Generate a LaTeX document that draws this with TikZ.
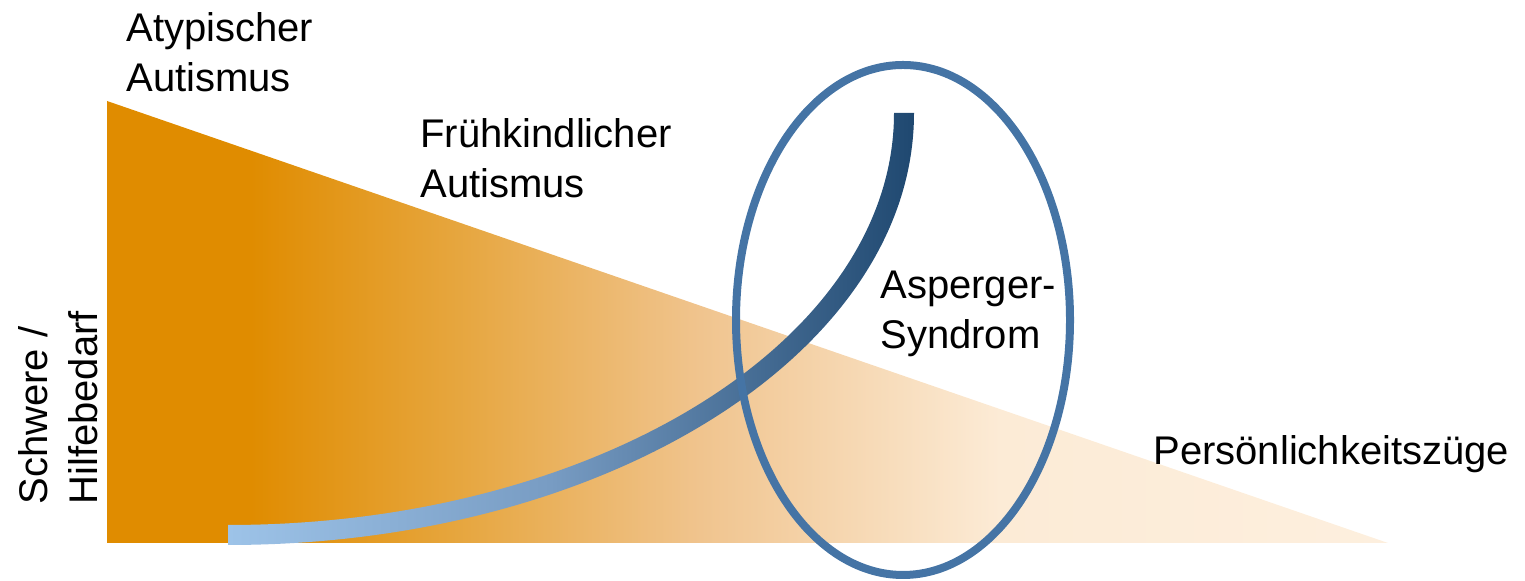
\documentclass[tikz,border=0pt]{standalone}
\usepackage{fontspec}
\setmainfont{Liberation Sans}
\definecolor{or0}{RGB}{224,140,0}
\definecolor{or1}{RGB}{230,165,60}
\definecolor{or2}{RGB}{240,196,142}
\definecolor{or3}{RGB}{252,235,214}
\definecolor{or4}{RGB}{253,239,222}
\definecolor{bl0}{RGB}{157,195,232}
\definecolor{bl1}{RGB}{120,156,195}
\definecolor{bl2}{RGB}{31,72,112}
\definecolor{ringblue}{RGB}{69,116,165}
\pgfdeclarehorizontalshading{trishade}{100bp}{color(0bp)=(or0); color(30.6bp)=(or0); color(38.4bp)=(or1); color(48.15bp)=(or2); color(59.85bp)=(or3); color(75bp)=(or4); color(100bp)=(or4)}
\pgfdeclarehorizontalshading{curveshade}{100bp}{color(0bp)=(bl0); color(25bp)=(bl0); color(48.5bp)=(bl1); color(75bp)=(bl2); color(100bp)=(bl2)}
\begin{document}
\begin{tikzpicture}[x=0.5pt,y=0.5pt,
  lbl/.style={inner sep=0pt, anchor=base west, align=left,
    font=\fontsize{20pt}{25pt}\selectfont}]
\useasboundingbox (0,0) rectangle (1525,581);
% triangle
\shade[shading=trishade] (107,480) -- (107,38) -- (1388,38) -- cycle;
% curve (band)
\shade[shading=curveshade] (228,36) arc[start angle=-90, end angle=0, x radius=686, y radius=432]
  -- (894,468) arc[start angle=0, end angle=-90, x radius=666, y radius=412] -- cycle;
% ellipse
\draw[ringblue, line width=4pt] (903,261) ellipse [x radius=167, y radius=255];
% labels (anchor = baseline of the last line)
\node[lbl] (atyp) at (126,489) {Atypischer\\Autismus};
\node[lbl] (fruh) at (420,383) {Frühkindlicher\\Autismus};
\node[lbl] (asp) at (880,232) {Asperger-\\Syndrom};
\node[lbl] (pers) at (1153,116) {Persönlichkeitszüge};
\node[lbl, rotate=90] (axis) at (97,76) {Schwere /\\Hilfebedarf};
\end{tikzpicture}
\end{document}
